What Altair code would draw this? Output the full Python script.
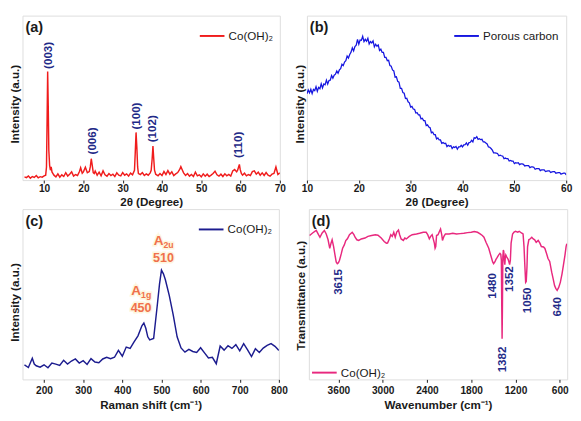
import altair as alt
import pandas as pd

FONT = "Liberation Sans"
INK = "#1a1a1a"
NAVY = "#1f2a88"
ORANGE = "#f0704c"

# ---------------- (a) XRD of Co(OH)2 ----------------
xrd_2theta = [5.0, 5.5, 6.0, 6.5, 7.0, 7.5, 8.0, 8.5, 9.0, 9.5, 10.0, 10.4, 10.6, 10.75, 10.9,
              11.05, 11.2, 11.4, 11.6, 11.8, 12.0, 12.25, 12.5, 13.0, 13.5, 14.0, 14.5, 15.0, 15.5,
              16.0, 16.5, 17.0, 17.5, 18.0, 18.5, 19.0, 19.3, 19.7, 20.0, 20.5, 21.0, 21.5, 21.75,
              22.0, 22.25, 22.5, 22.75, 23.0, 23.5, 24.0, 24.5, 25.0, 25.5, 26.0, 26.5, 27.0, 27.5,
              28.0, 28.5, 29.0, 29.5, 30.0, 30.5, 31.0, 31.5, 32.0, 32.5, 33.0, 33.2, 33.4, 33.6,
              33.8, 34.0, 34.5, 35.0, 35.5, 36.0, 36.5, 37.0, 37.25, 37.5, 37.7, 37.9, 38.1, 38.4,
              39.0, 39.5, 40.0, 40.5, 41.0, 41.5, 42.0, 42.5, 43.0, 43.5, 44.0, 44.5, 44.8, 45.2,
              45.5, 46.0, 46.5, 47.0, 47.5, 48.0, 48.5, 49.0, 49.5, 50.0, 50.5, 51.0, 51.5, 52.0,
              52.5, 53.0, 53.5, 54.0, 54.5, 55.0, 55.5, 56.0, 56.5, 57.0, 57.5, 58.0, 58.5, 59.0,
              59.25, 59.5, 59.7, 59.9, 60.2, 60.5, 61.0, 61.5, 62.0, 62.5, 63.0, 63.5, 64.0, 64.5,
              65.0, 65.5, 66.0, 66.5, 67.0, 67.5, 68.0, 68.5, 69.0, 69.5, 70.0]
xrd_intensity = [2.0, 1.5, 2.5, 1.2, 2.2, 1.6, 2.8, 1.4, 2.1, 1.8, 2.6, 3.0, 8.0, 35.0, 66.0,
                 45.0, 18.0, 9.0, 6.0, 8.0, 5.0, 4.0, 3.0, 2.0, 3.8, 1.8, 3.2, 2.2, 4.5,
                 2.5, 3.6, 5.0, 2.4, 3.4, 2.8, 5.2, 7.5, 4.2, 5.0, 7.8, 4.5, 5.2, 8.0,
                 13.0, 9.0, 4.5, 4.0, 5.5, 3.0, 4.8, 2.6, 5.6, 3.2, 2.4, 4.0, 2.8, 3.6,
                 2.2, 4.4, 3.0, 2.6, 4.6, 3.0, 3.8, 2.4, 4.2, 3.2, 6.0, 17.0, 29.0, 20.0,
                 8.0, 4.0, 3.4, 4.6, 2.8, 3.8, 3.0, 4.4, 6.0, 13.0, 20.7, 13.0, 6.0, 3.6,
                 2.6, 4.0, 2.8, 5.2, 3.4, 5.8, 3.6, 5.0, 2.8, 3.8, 4.6, 6.5, 8.2, 6.0,
                 4.4, 2.8, 4.0, 2.4, 3.4, 2.2, 4.8, 2.6, 3.2, 2.0, 3.8, 2.4, 3.6, 2.2,
                 3.0, 4.0, 5.4, 3.2, 2.4, 3.6, 2.2, 3.8, 2.6, 3.4, 2.4, 5.6, 6.4, 5.0,
                 6.0, 8.0, 9.5, 6.5, 4.0, 3.0, 4.2, 2.6, 3.4, 2.8, 5.2, 5.6, 3.6, 4.8,
                 3.0, 4.4, 2.8, 4.6, 3.0, 2.4, 3.6, 4.0, 8.0, 3.4, 4.4]
xrd_label_text = ["(003)", "(006)", "(100)", "(102)", "(110)"]
xrd_label_x = [11.0, 22.3, 33.4, 37.6, 59.5]
xrd_label_y = [67.6, 15.6, 30.7, 23.0, 13.4]
xrd_ticks = [10, 20, 30, 40, 50, 60, 70]

# ---------------- (b) XRD of porous carbon ----------------
pc_2theta = [10.0, 10.25, 10.5, 10.75, 11.0, 11.25, 11.5, 11.75, 12.0, 12.25, 12.5, 12.75,
             13.0, 13.25, 13.5, 13.75, 14.0, 14.25, 14.5, 14.75, 15.0, 15.25, 15.5, 15.75,
             16.0, 16.25, 16.5, 16.75, 17.0, 17.25, 17.5, 17.75, 18.0, 18.25, 18.5, 18.75,
             19.0, 19.25, 19.5, 19.75, 20.0, 20.25, 20.5, 20.75, 21.0, 21.25, 21.5, 21.75,
             22.0, 22.25, 22.5, 22.75, 23.0, 23.25, 23.5, 23.75, 24.0, 24.25, 24.5, 24.75,
             25.0, 25.25, 25.5, 25.75, 26.0, 26.25, 26.5, 26.75, 27.0, 27.25, 27.5, 27.75,
             28.0, 28.25, 28.5, 28.75, 29.0, 29.25, 29.5, 29.75, 30.0, 30.25, 30.5, 30.75,
             31.0, 31.25, 31.5, 31.75, 32.0, 32.25, 32.5, 32.75, 33.0, 33.25, 33.5, 33.75,
             34.0, 34.25, 34.5, 34.75, 35.0, 35.25, 35.5, 35.75, 36.0, 36.25, 36.5, 36.75,
             37.0, 37.25, 37.5, 37.75, 38.0, 38.25, 38.5, 38.75, 39.0, 39.25, 39.5, 39.75,
             40.0, 40.25, 40.5, 40.75, 41.0, 41.25, 41.5, 41.75, 42.0, 42.25, 42.5, 42.75,
             43.0, 43.25, 43.5, 43.75, 44.0, 44.25, 44.5, 44.75, 45.0, 45.25, 45.5, 45.75,
             46.0, 46.25, 46.5, 46.75, 47.0, 47.25, 47.5, 47.75, 48.0, 48.25, 48.5, 48.75,
             49.0, 49.25, 49.5, 49.75, 50.0, 50.25, 50.5, 50.75, 51.0, 51.25, 51.5, 51.75,
             52.0, 52.25, 52.5, 52.75, 53.0, 53.25, 53.5, 53.75, 54.0, 54.25, 54.5, 54.75,
             55.0, 55.25, 55.5, 55.75, 56.0, 56.25, 56.5, 56.75, 57.0, 57.25, 57.5, 57.75,
             58.0, 58.25, 58.5, 58.75, 59.0, 59.25, 59.5, 59.75, 60.0]
pc_intensity = [52.5, 54.8, 53.1, 55.2, 52.6, 55.1, 54.4, 56.8, 54.0, 56.4, 55.6, 58.6,
                56.0, 58.4, 57.9, 60.8, 58.4, 60.6, 60.8, 63.6, 62.0, 63.8, 64.4, 66.4,
                65.0, 67.0, 67.8, 70.4, 69.6, 71.8, 72.6, 75.4, 74.2, 76.4, 77.8, 80.4,
                78.6, 81.2, 82.0, 85.6, 82.6, 85.2, 85.0, 87.4, 84.2, 85.6, 84.4, 86.2,
                82.8, 84.2, 83.4, 84.6, 81.0, 82.6, 81.4, 82.2, 78.8, 79.6, 77.6, 77.6,
                74.6, 74.6, 72.6, 72.8, 69.6, 69.2, 67.0, 66.4, 62.6, 62.8, 60.0, 59.6,
                55.8, 55.8, 53.2, 52.8, 49.6, 49.8, 47.6, 47.0, 44.4, 44.8, 43.2, 43.0,
                40.8, 41.0, 39.6, 39.6, 37.2, 37.6, 36.2, 36.2, 33.2, 33.6, 32.2, 31.8,
                28.8, 29.2, 27.6, 27.6, 25.0, 25.6, 24.4, 24.4, 22.4, 22.8, 22.2, 22.4,
                20.4, 21.2, 20.6, 21.0, 19.2, 20.2, 19.8, 20.4, 18.8, 20.2, 20.2, 21.2,
                20.2, 21.4, 21.6, 22.6, 21.2, 22.8, 23.0, 24.2, 23.2, 25.8, 25.4, 26.4,
                24.8, 25.2, 24.6, 24.8, 23.2, 23.2, 22.6, 22.0, 20.2, 20.0, 19.2, 18.2,
                16.6, 16.6, 16.4, 16.2, 14.8, 15.2, 14.8, 14.6, 13.0, 13.4, 13.0, 13.0,
                11.6, 12.0, 11.6, 11.6, 10.0, 10.6, 10.4, 10.6, 9.4, 9.8, 9.8, 9.6,
                8.6, 8.8, 8.8, 8.8, 7.6, 8.0, 8.0, 7.8, 6.6, 7.0, 7.0, 7.0,
                5.8, 6.2, 6.2, 6.2, 5.2, 5.4, 5.6, 5.6, 4.6, 5.0, 5.2, 5.2,
                4.2, 4.4, 4.6, 4.6, 3.6, 4.0, 4.2, 4.2, 3.2]
pc_ticks = [10, 20, 30, 40, 50, 60]

# ---------------- (c) Raman of Co(OH)2 ----------------
raman_shift = [150, 160, 170, 175, 180, 190, 200, 210, 220, 230, 240, 250, 260, 270, 280, 290,
               300, 310, 320, 330, 340, 350, 360, 370, 380, 390, 400, 410, 420, 430, 440, 450,
               455, 460, 465, 470, 480, 490, 495, 500, 505, 510, 520, 530, 540, 550, 560, 570,
               580, 590, 600, 610, 620, 630, 640, 650, 660, 670, 680, 690, 700, 710, 720, 730,
               740, 750, 760, 770, 780, 790, 800]
raman_intensity = [8.5, 7.0, 12.4, 9.0, 8.0, 7.2, 8.6, 6.8, 9.6, 9.0, 8.2, 11.2, 9.0, 10.8, 12.0, 9.6,
                   11.0, 8.8, 12.2, 10.2, 9.8, 12.0, 13.0, 12.2, 13.0, 17.0, 13.6, 19.0, 18.2, 22.0, 25.6, 31.5,
                   33.1, 30.0, 25.0, 23.2, 24.0, 45.0, 56.0, 64.2, 62.0, 58.5, 49.2, 37.9, 25.0, 18.5, 16.0, 17.6,
                   16.4, 15.8, 18.6, 15.6, 12.6, 13.0, 9.2, 19.6, 17.2, 19.8, 18.2, 20.4, 16.8, 21.0, 17.4, 13.4,
                   18.0, 15.8, 18.4, 20.0, 21.0, 19.4, 17.0]
raman_label_x = [448, 505]
raman_symbol = ["A", "A"]
raman_sub = ["1g", "2u"]
raman_sym_y = [52.0, 81.4]
raman_num = ["450", "510"]
raman_num_y = [42.0, 71.2]
raman_ticks = [200, 300, 400, 500, 600, 700, 800]

# ---------------- (d) FTIR of Co(OH)2 ----------------
ftir_wavenumber = [3990, 3950, 3900, 3870, 3850, 3820, 3790, 3765, 3740, 3717, 3700, 3685, 3665, 3650,
                   3630, 3615, 3600, 3585, 3560, 3543, 3520, 3500, 3478, 3450, 3413, 3390, 3374, 3350,
                   3325, 3290, 3240, 3200, 3150, 3100, 3064, 3020, 2980, 2950, 2934, 2910, 2890, 2870,
                   2850, 2830, 2810, 2786, 2770, 2750, 2720, 2700, 2680, 2640, 2600, 2542, 2500, 2450,
                   2411, 2390, 2368, 2350, 2330, 2300, 2290, 2281, 2270, 2250, 2230, 2216, 2200, 2190,
                   2170, 2150, 2100, 2050, 2000, 1950, 1900, 1850, 1800, 1760, 1715, 1680, 1650, 1628,
                   1600, 1563, 1530, 1510, 1497, 1480, 1465, 1454, 1430, 1411, 1400, 1392, 1386, 1382,
                   1378, 1372, 1365, 1359, 1352, 1345, 1338, 1332, 1320, 1310, 1300, 1290, 1280, 1270,
                   1260, 1240, 1220, 1200, 1170, 1150, 1120, 1098, 1085, 1075, 1063, 1055, 1045, 1037,
                   1020, 1000, 980, 960, 940, 920, 893, 870, 850, 820, 802, 780, 760, 737,
                   710, 690, 671, 655, 636, 615, 593, 570, 550, 530, 515, 505]
ftir_transmittance = [84.5, 86.0, 87.5, 85.0, 83.5, 86.0, 87.5, 85.4, 82.0, 77.0, 80.0, 82.0, 78.0, 74.0,
                      69.0, 68.0, 68.5, 70.0, 74.0, 77.0, 79.0, 81.5, 82.6, 85.0, 86.4, 85.0, 83.5, 82.0,
                      81.6, 82.5, 83.0, 84.0, 84.5, 85.0, 84.7, 83.0, 81.0, 80.0, 80.1, 82.5, 85.0, 84.0,
                      86.4, 83.5, 86.5, 87.7, 85.0, 82.5, 81.6, 83.0, 82.5, 84.0, 85.0, 85.4, 85.8, 86.4,
                      86.4, 85.0, 82.6, 84.0, 85.0, 80.0, 77.0, 78.0, 84.5, 85.0, 87.0, 88.3, 85.0, 81.6,
                      84.0, 85.4, 85.4, 85.8, 85.4, 85.6, 85.8, 86.2, 86.4, 86.8, 86.4, 85.5, 84.5, 83.5,
                      80.5, 77.0, 72.0, 69.0, 68.0, 69.0, 70.5, 71.2, 73.0, 74.0, 73.5, 70.0, 40.0, 23.9,
                      40.0, 72.0, 76.0, 75.0, 70.0, 67.4, 72.0, 73.1, 72.0, 71.2, 70.5, 69.0, 67.4, 70.0,
                      80.0, 85.4, 86.5, 87.0, 86.5, 87.0, 86.0, 85.4, 78.0, 68.0, 57.0, 57.5, 66.0, 77.8,
                      82.0, 82.6, 83.5, 82.5, 82.0, 80.5, 81.6, 80.0, 78.0, 77.8, 76.9, 74.0, 71.0, 69.3,
                      63.0, 59.0, 55.1, 53.5, 52.3, 54.0, 57.0, 62.0, 67.4, 73.0, 78.0, 79.7]
ftir_label_text = ["3615", "1480", "1352", "1382", "1050", "640"]
ftir_label_x = [3608, 1520, 1281, 1376, 1040, 636]
ftir_label_y = [64.8, 62.5, 66.5, 19.3, 54.0, 48.3]
ftir_ticks = [3600, 3000, 2400, 1800, 1200, 600]

SERIES_CO = "Co(OH)₂"
SERIES_PC = "Porous carbon"


def x_axis(title, values, label_pad=2, title_pad=1):
    return alt.Axis(title=title, values=values, format="d", grid=False, domain=False, ticks=True,
                    tickSize=3, tickColor=INK, tickWidth=1, labelFont=FONT, labelFontSize=10.5,
                    labelFontWeight="bold", labelColor=INK, labelPadding=label_pad,
                    labelFlush=False, labelOverlap=False, labelBound=False,
                    titleFont=FONT, titleFontSize=12, titleFontWeight="bold",
                    titleColor=INK, titlePadding=title_pad)


def y_axis(title, title_y):
    return alt.Axis(title=title, labels=False, ticks=False, domain=False, grid=False,
                    titleFont=FONT, titleFontSize=12, titleFontWeight="bold",
                    titleColor=INK, titlePadding=1, titleY=title_y)


def legend(orient="top-right", **kw):
    return alt.Legend(title=None, orient=orient, padding=0, symbolType="stroke",
                      symbolStrokeWidth=2, symbolSize=650, labelFont=FONT, labelFontSize=12,
                      labelColor=INK, labelOffset=3, **kw)


def letter(txt):
    return alt.Chart(pd.DataFrame({"t": [txt]})).mark_text(
        align="left", baseline="middle", font=FONT, fontSize=15, fontWeight="bold", color=INK
    ).encode(text="t:N", x=alt.value(3), y=alt.value(12))


LW = 1.5

# ----- panel a -----
df_a = pd.DataFrame({"x": xrd_2theta, "y": xrd_intensity, "s": SERIES_CO})
xa = alt.X("x:Q", scale=alt.Scale(domain=[4.5, 70], nice=False, zero=False),
           axis=x_axis("2θ (Degree)", xrd_ticks, label_pad=1, title_pad=3))
ya = alt.Y("y:Q", scale=alt.Scale(domain=[0, 100], nice=False),
           axis=y_axis("Intensity (a.u.)", 91))
line_a = alt.Chart(df_a).mark_line(strokeWidth=LW, clip=True).encode(
    x=xa, y=ya,
    color=alt.Color("s:N", scale=alt.Scale(domain=[SERIES_CO], range=["#f01c1c"]),
                    legend=legend(offset=7)))
lab_a = alt.Chart(pd.DataFrame({"x": xrd_label_x, "y": xrd_label_y, "t": xrd_label_text})).mark_text(
    angle=270, align="left", baseline="middle", font=FONT, fontSize=12, fontWeight="bold", color=NAVY
).encode(x="x:Q", y="y:Q", text="t:N")
pa = alt.layer(line_a, lab_a, letter("(a)")).properties(width=266, height=170)

# ----- panel b -----
df_b = pd.DataFrame({"x": pc_2theta, "y": pc_intensity, "s": SERIES_PC})
line_b = alt.Chart(df_b).mark_line(strokeWidth=1.3, clip=True).encode(
    x=alt.X("x:Q", scale=alt.Scale(domain=[10, 60], nice=False, zero=False),
            axis=x_axis("2θ (Degree)", pc_ticks, label_pad=1, title_pad=3)),
    y=alt.Y("y:Q", scale=alt.Scale(domain=[0, 100], nice=False),
            axis=y_axis("Intensity (a.u.)", 91)),
    color=alt.Color("s:N", scale=alt.Scale(domain=[SERIES_PC], range=["#1616e0"]),
                    legend=legend(offset=7)))
pb = alt.layer(line_b, letter("(b)")).properties(width=268, height=170)

# ----- panel c -----
df_c = pd.DataFrame({"x": raman_shift, "y": raman_intensity, "s": SERIES_CO})
xc = alt.X("x:Q", scale=alt.Scale(domain=[145, 800], nice=False, zero=False),
           axis=x_axis("Raman shift (cm⁻¹)", raman_ticks, label_pad=4, title_pad=4))
yc = alt.Y("y:Q", scale=alt.Scale(domain=[0, 100], nice=False),
           axis=y_axis("Intensity (a.u.)", 96))
line_c = alt.Chart(df_c).mark_line(strokeWidth=LW, clip=True).encode(
    x=xc, y=yc,
    color=alt.Color("s:N", scale=alt.Scale(domain=[SERIES_CO], range=["#1c1c8f"]),
                    legend=legend(offset=7)))
df_cl = pd.DataFrame({"x": raman_label_x, "ys": raman_sym_y, "yn": raman_num_y,
                      "a": raman_symbol, "sub": raman_sub, "n": raman_num})
HALO_COLOR = "#fdf4d6"


def raman_text(field, ycol, align, size, dy=0, halo=False):
    kw = dict(align=align, baseline="middle", dy=dy, font=FONT, fontSize=size,
              fontWeight="bold", color=ORANGE)
    if halo:
        kw.update(dict(stroke=HALO_COLOR, strokeWidth=3, strokeOpacity=0.8, color=HALO_COLOR))
    return alt.Chart(df_cl).mark_text(**kw).encode(x="x:Q", y=alt.Y(f"{ycol}:Q"), text=f"{field}:N")


halo_layers = [raman_text("a", "ys", "right", 14, halo=True),
               raman_text("sub", "ys", "left", 9, dy=4, halo=True),
               raman_text("n", "yn", "center", 13, halo=True)]
text_layers = [raman_text("a", "ys", "right", 14),
               raman_text("sub", "ys", "left", 9, dy=4),
               raman_text("n", "yn", "center", 13)]
pc = alt.layer(line_c, *halo_layers, *text_layers, letter("(c)")).properties(width=265, height=176)

# ----- panel d -----
df_d = pd.DataFrame({"x": ftir_wavenumber, "y": ftir_transmittance, "s": SERIES_CO})
xd = alt.X("x:Q", scale=alt.Scale(domain=[4000, 500], nice=False, zero=False),
           axis=x_axis("Wavenumber (cm⁻¹)", ftir_ticks, label_pad=4, title_pad=4))
yd = alt.Y("y:Q", scale=alt.Scale(domain=[0, 100], nice=False),
           axis=y_axis("Transmittance (a.u.)", 89))
line_d = alt.Chart(df_d).mark_line(strokeWidth=LW, clip=True).encode(
    x=xd, y=yd,
    color=alt.Color("s:N", scale=alt.Scale(domain=[SERIES_CO], range=["#e8287e"]),
                    legend=legend(orient="none", legendX=2, legendY=155)))
lab_d = alt.Chart(pd.DataFrame({"x": ftir_label_x, "y": ftir_label_y, "t": ftir_label_text})).mark_text(
    angle=270, align="right", baseline="middle", font=FONT, fontSize=12, fontWeight="bold", color=NAVY
).encode(x="x:Q", y="y:Q", text="t:N")
pd_ = alt.layer(line_d, lab_d, letter("(d)")).properties(width=267, height=176)

top = alt.hconcat(pa, pb, spacing=6).resolve_scale(color="independent")
bottom = alt.hconcat(pc, pd_, spacing=6).resolve_scale(color="independent")
chart = alt.vconcat(top, bottom, spacing=0).resolve_scale(color="independent").properties(
    padding=0
).configure_view(stroke=INK, strokeWidth=1.3).configure(background="white")

chart.save("out.html", embed_options={"renderer": "svg", "actions": False})
